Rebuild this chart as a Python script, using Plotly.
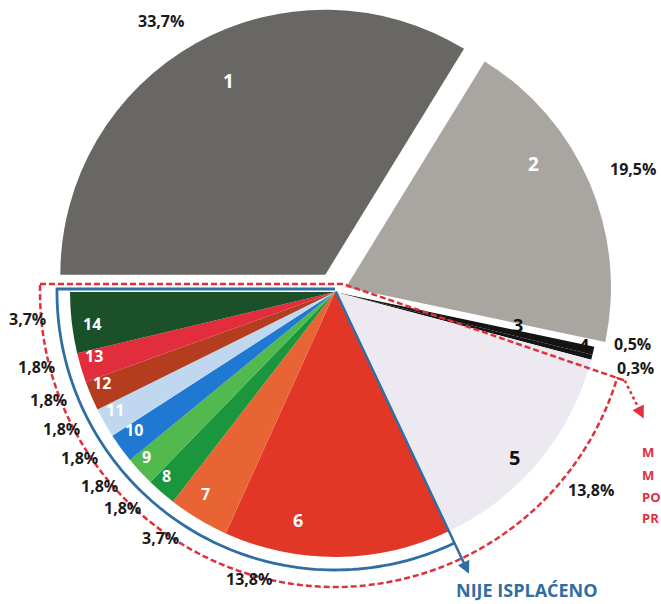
import math

import plotly.graph_objects as go

# slice data (clockwise from 9 o'clock)
slice_ids = ["1", "2", "3", "4", "5", "6", "7", "8", "9", "10", "11", "12", "13", "14"]
shares = [33.7, 19.5, 0.5, 0.3, 13.8, 13.8, 3.7, 1.8, 1.8, 1.8, 1.8, 1.8, 1.8, 3.7]
colors = ["#686763", "#a9a6a1", "#141414", "#141414", "#eceaf0", "#e23726", "#e86434",
          "#1b963d", "#52b94f", "#1f78d1", "#bfd7ef", "#b43d1f", "#e22d3d", "#1b5129"]
pulls = [0.075, 0.045, 0, 0, 0, 0, 0, 0, 0, 0, 0, 0, 0, 0]
pct_text = [f"{v:.1f}%".replace(".", ",") for v in shares]

# label placement tweaks (radius as fraction of R, extra turn in degrees)
num_r = [0.815, 0.845, 0.70, 0.96, 0.92, 0.87, 0.905, 0.94, 0.945, 0.92, 0.94, 0.945, 0.94, 0.925]
num_turn = [-2.7, 10, 2.7, 2.3, -3, -9.8, -1.8, -1.6, -1.4, -1.7, -1.4, -1.9, -1.8, 0.8]
num_color = ["white", "white", "#111", "#111", "#111"] + ["white"] * 9
num_size = [19, 19, 18, 18, 20, 18, 16, 16, 16, 16, 16, 16, 16, 16]
pct_r = [1.14, 1.17, 1.14, 1.17, 1.22, 1.13, 1.14, 1.145, 1.15, 1.15, 1.155, 1.155, 1.16, 1.165]
pct_turn = [3.7, -0.9, 2.9, 0, 1.9, -17.2, -4.3, -3.6, -3.1, -3.1, -3, -2.4, -2.5, -1.6]

W, H = 661, 604
CX, CY, R = 335, 292, 265
RED = "#e0303a"
BLUE = "#2f6ea3"
FONT = "Open Sans, Lato, sans-serif"

S = R * (1 + max(pulls))


def px(x, y):
    return x / W, 1 - y / H


def polar(r, deg, cx=CX, cy=CY):
    a = math.radians(deg)
    return cx + r * math.cos(a), cy - r * math.sin(a)


def label(x, y, text, size, color, anchor="center"):
    xp, yp = px(x, y)
    return dict(x=xp, y=yp, xref="paper", yref="paper", showarrow=False,
                xanchor=anchor, yanchor="middle", text=text,
                font=dict(family=FONT, size=size, color=color))


# slice angles (math convention, clockwise from 180)
total = sum(shares)
starts, ends = [], []
acc = 0.0
for v in shares:
    starts.append(180 - 360 * acc / total)
    acc += v
    ends.append(180 - 360 * acc / total)
mids = [(a + b) / 2 for a, b in zip(starts, ends)]

fig = go.Figure(go.Pie(
    labels=slice_ids, values=shares, sort=False, direction="clockwise", rotation=270,
    pull=pulls, marker=dict(colors=colors, line=dict(width=0)),
    textinfo="none", hoverinfo="label+percent",
    domain=dict(x=[(CX - S) / W, (CX + S) / W], y=[1 - (CY + S) / H, 1 - (CY - S) / H]),
))

annotations = []
for i, sid in enumerate(slice_ids):
    cx, cy = polar(pulls[i] * R, mids[i])
    x, y = polar(num_r[i] * R, mids[i] + num_turn[i], cx, cy)
    annotations.append(label(x, y, f"<b>{sid}</b>", num_size[i], num_color[i]))
    x, y = polar(pct_r[i] * R, mids[i] + pct_turn[i], cx, cy)
    annotations.append(label(x, y, f"<b>{pct_text[i]}</b>", 16, "#1a1a1a"))

# red dashed outline round the lower group
Rr = 295
corner_deg = ends[3] - 2.2
pts = [(CX - Rr, CY - 8), (CX + 8, CY - 8), polar(Rr + 8, corner_deg)]
n = 90
for k in range(n + 1):
    d = corner_deg + (-180 - corner_deg) * k / n
    pts.append(polar(Rr, d))
pts.append((CX - Rr, CY - 8))
red_path = "M " + " L ".join(f"{px(x, y)[0]:.5f},{px(x, y)[1]:.5f}" for x, y in pts)

# blue line round slices 6-14
Rb = 278
bpts = [(CX, CY - 3), (CX - Rb, CY - 3)]
for k in range(n + 1):
    d = -180 + (ends[4] + 180) * k / n
    bpts.append(polar(Rb, d))
blue_path = "M " + " L ".join(f"{px(x, y)[0]:.5f},{px(x, y)[1]:.5f}" for x, y in bpts)

shapes = [
    dict(type="path", path=red_path, xref="paper", yref="paper",
         line=dict(color=RED, width=2.5, dash="6px,3px")),
    dict(type="path", path=blue_path, xref="paper", yref="paper",
         line=dict(color=BLUE, width=2.8)),
]

# red dotted pointer from the corner
cx0, cy0 = polar(Rr + 8, corner_deg)
tipx, tipy = cx0 + 19, cy0 + 38
x0p, y0p = px(cx0, cy0)
x1p, y1p = px(tipx - 3, tipy - 6)
shapes.append(dict(type="line", x0=x0p, y0=y0p, x1=x1p, y1=y1p, xref="paper", yref="paper",
                   line=dict(color=RED, width=2.5, dash="dot")))
tp = px(tipx, tipy)
annotations.append(dict(x=tp[0], y=tp[1], xref="paper", yref="paper", text="",
                        showarrow=True, ax=-4, ay=-8, axref="pixel", ayref="pixel",
                        arrowhead=2, arrowsize=1, arrowwidth=2.5, arrowcolor=RED))

# blue arrow along slice 5/6 boundary
bx, by = polar(312, ends[4])
bp = px(bx, by)
annotations.append(dict(x=bp[0], y=bp[1], xref="paper", yref="paper", text="",
                        showarrow=True, ax=CX - bx, ay=CY - 2 - by, axref="pixel", ayref="pixel",
                        arrowhead=2, arrowsize=1, arrowwidth=2.5, arrowcolor=BLUE,
                        standoff=0, startstandoff=0))
annotations.append(label(527, 590, "<b>NIJE ISPLAĆENO</b>", 18, BLUE))

# red side note, cut by the page edge
for word, yy in zip(["M", "M", "PO", "PR"], [452, 475, 497, 518]):
    annotations.append(label(640, yy, f"<b>{word}</b>", 13, RED, anchor="left"))

fig.update_layout(
    width=W, height=H,
    margin=dict(l=0, r=0, t=0, b=0),
    paper_bgcolor="white",
    showlegend=False,
    shapes=shapes,
    annotations=annotations,
)

fig.write_html("out.html", config={"displayModeBar": False},
               post_script="document.body.style.margin='0';")
